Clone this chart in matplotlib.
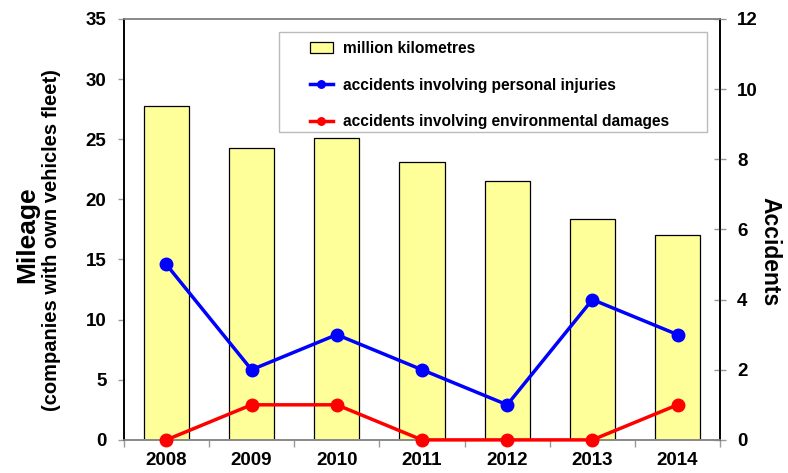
import numpy as np
import matplotlib
matplotlib.use('Agg')
import matplotlib.pyplot as plt
from matplotlib.patches import Rectangle

plt.rcParams['font.family'] = ['Liberation Sans', 'DejaVu Sans']
plt.rcParams['font.weight'] = 'bold'

years = ['2008', '2009', '2010', '2011', '2012', '2013', '2014']
mileage = [27.8, 24.3, 25.1, 23.1, 21.5, 18.4, 17.0]
injuries = [5, 2, 3, 2, 1, 4, 3]
environmental = [0, 1, 1, 0, 0, 0, 1]

W, H = 788, 473
fig = plt.figure(figsize=(W / 100, H / 100), dpi=100)
ax = fig.add_axes([0.157, 0.070, 0.757, 0.890])
ax2 = ax.twinx()

x = np.arange(len(years))
bars = ax.bar(x, mileage, width=0.53, color='#ffff99', edgecolor='black', linewidth=0.9,
              label='million kilometres', zorder=2)
l1, = ax2.plot(x, injuries, color='#0000ff', lw=2.5, marker='o', ms=9,
               label='accidents involving personal injuries', zorder=3)
l2, = ax2.plot(x, environmental, color='#ff0000', lw=2.5, marker='o', ms=9,
               label='accidents involving environmental damages', zorder=3, clip_on=False)

ax.set_xlim(-0.5, len(years) - 0.5)
ax.set_ylim(0, 35)
ax2.set_ylim(0, 12)
ax.set_yticks(np.arange(0, 36, 5))
ax2.set_yticks(np.arange(0, 13, 2))
ax.set_xticks(x)
ax.set_xticklabels(years)
ax.set_xticks(np.arange(-0.5, len(years)), minor=True)

for a in (ax, ax2):
    a.tick_params(axis='both', which='both', labelsize=13.5, color='#999999', width=1)
    for lab in a.get_yticklabels() + a.get_xticklabels():
        lab.set_fontweight('bold')
ax.tick_params(axis='x', which='major', length=0, pad=9)
ax.tick_params(axis='x', which='minor', length=5, direction='out')
ax.tick_params(axis='y', length=4.5, pad=8, direction='out')
ax2.tick_params(axis='y', length=8, pad=8, direction='inout')

for a in (ax, ax2):
    for s in ('left', 'right'):
        a.spines[s].set_color('black')
        a.spines[s].set_linewidth(1.2)
    for s in ('top', 'bottom'):
        a.spines[s].set_color('#888888')
        a.spines[s].set_linewidth(1.2)

fig.text(27 / W, 1 - 235 / H, 'Mileage', rotation=90, fontsize=19, fontweight='bold',
         ha='center', va='center')
fig.text(52 / W, 1 - 240 / H, '(companies with own vehicles fleet)', rotation=90,
         fontsize=14.5, fontweight='bold', ha='center', va='center')
fig.text(770 / W, 1 - 252 / H, 'Accidents', rotation=-90, fontsize=16.5, fontweight='bold',
         ha='center', va='center')

ax2.set_zorder(ax.get_zorder() + 1)
ax2.patch.set_visible(False)

# legend frame drawn separately so the entries can sit indented inside it
ax2.add_patch(Rectangle((0.26, 0.732), 0.718, 0.237, transform=ax.transAxes,
                        facecolor='white', edgecolor='#bbbbbb', lw=1.0, zorder=5))
leg = ax2.legend([bars, l1, l2], [bars.get_label(), l1.get_label(), l2.get_label()],
                 loc='upper left', bbox_to_anchor=(0.312, 0.948),
                 bbox_transform=ax.transAxes, borderaxespad=0, borderpad=0,
                 frameon=False, prop={'size': 11.2, 'weight': 'bold'},
                 handlelength=1.5, handletextpad=0.65, labelspacing=1.4,
                 markerscale=0.6)
leg.set_zorder(6)

fig.savefig('out.png', dpi=100)
